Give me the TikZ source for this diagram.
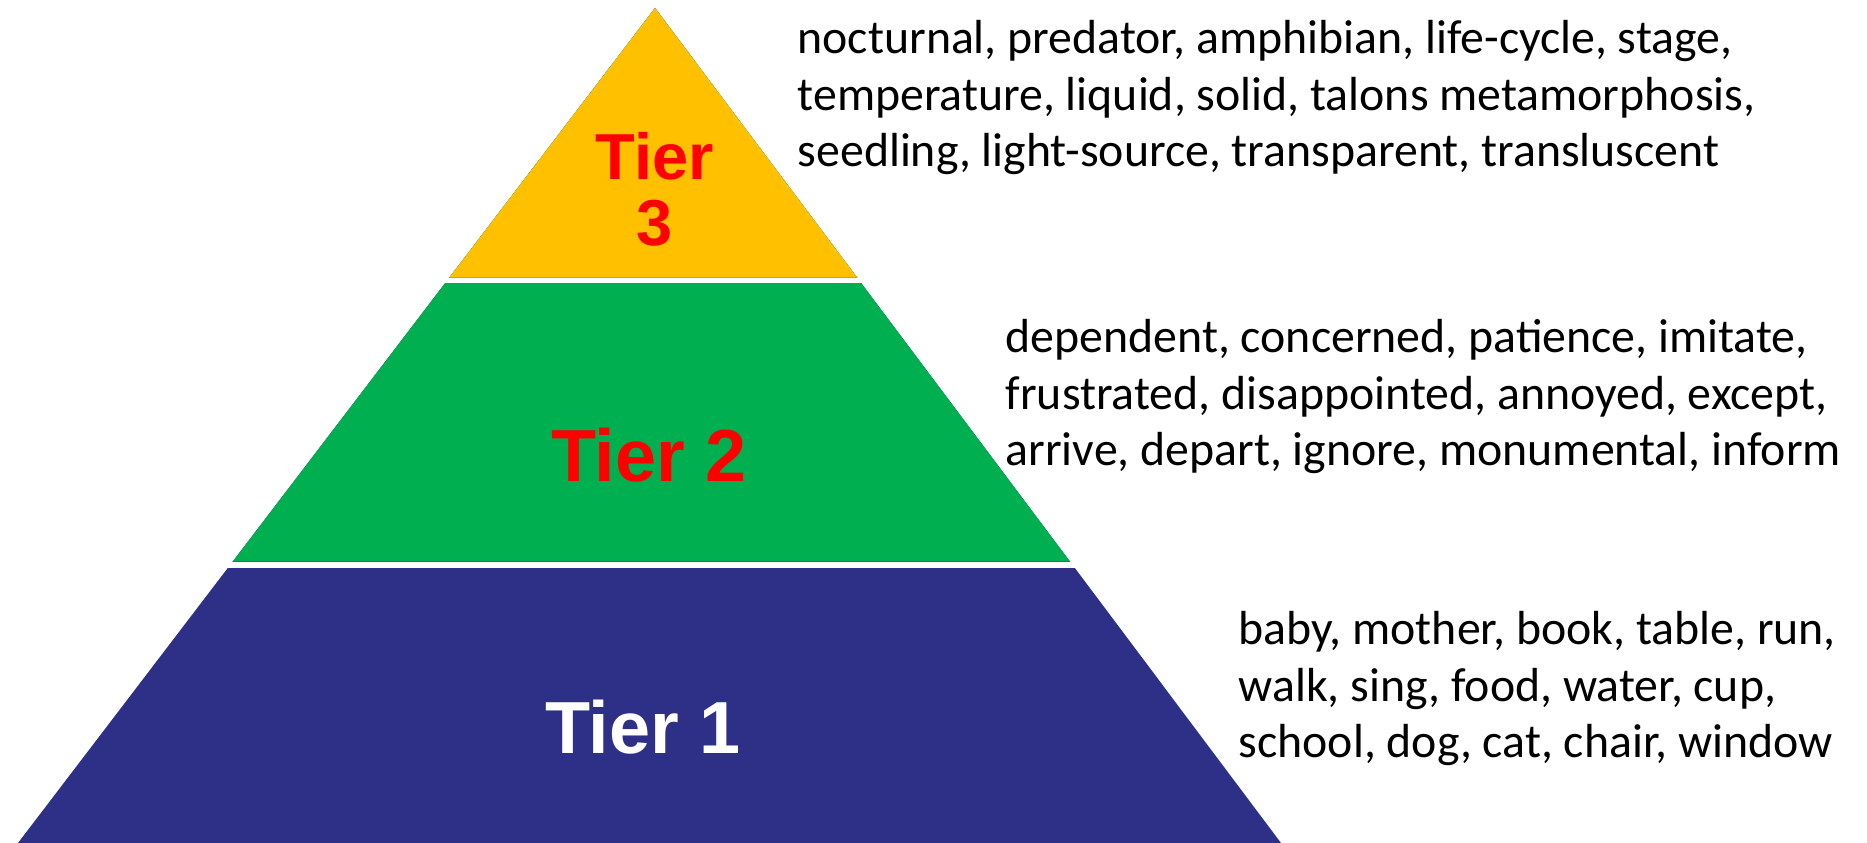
\documentclass[tikz,border=0pt]{standalone}
\usepackage{fontspec}
\setmainfont{Carlito}
\newfontfamily\tierfont{Liberation Sans}
\usepackage{tikz}
\usetikzlibrary{calc}

\definecolor{tierthreecol}{HTML}{FFC000}
\definecolor{tiertwocol}{HTML}{00B050}
\definecolor{tieronecol}{HTML}{2E3088}
\definecolor{tierred}{HTML}{FF0000}

\begin{document}
\begin{tikzpicture}[scale=1.0,
  tierlabel/.style={inner sep=0pt, align=center, font=\tierfont\bfseries\fontsize{21}{22}\selectfont},
  wordlist/.style={inner sep=0pt, anchor=base west, align=left, font=\fontsize{13.6}{16.1}\selectfont}]

\useasboundingbox (0,0) rectangle (18.67,8.43);

\coordinate (apex) at (6.55,8.35);
\coordinate (bl) at (0.18,0);
\coordinate (br) at (12.81,0);

% pyramid, filled from the bottom up
\fill[tieronecol] (apex) -- (bl) -- (br) -- cycle;
\fill[tiertwocol] (apex) -- ($(apex)!0.6631!(bl)$) -- ($(apex)!0.6631!(br)$) -- cycle;
\fill[tierthreecol] (apex) -- ($(apex)!0.3230!(bl)$) -- ($(apex)!0.3230!(br)$) -- cycle;

% white gaps
\fill[white] (0,2.754) rectangle (11.2,2.813);
\fill[white] (0,5.597) rectangle (11.2,5.653);

\node[tierlabel, text=tierred, font=\tierfont\bfseries\fontsize{18.5}{18.8}\selectfont] (tier3) at (6.545,6.535) {Tier\\3};
\node[tierlabel, text=tierred] (tier2) at (6.49,3.88) {Tier 2};
\node[tierlabel, text=white] (tier1) at (6.43,1.155) {Tier 1};

% word lists (base = last line)
\node[wordlist] (words3) at (7.97,6.76) {nocturnal, predator, amphibian, life-cycle, stage,\\temperature, liquid, solid, talons metamorphosis,\\seedling, light-source, transparent, transluscent};
\node[wordlist] (words2) at (10.05,3.77) {dependent, concerned, patience, imitate,\\frustrated, disappointed, annoyed, except,\\arrive, depart, ignore, monumental, inform};
\node[wordlist] (words1) at (12.38,0.85) {baby, mother, book, table, run,\\walk, sing, food, water, cup,\\school, dog, cat, chair, window};

\end{tikzpicture}
\end{document}
